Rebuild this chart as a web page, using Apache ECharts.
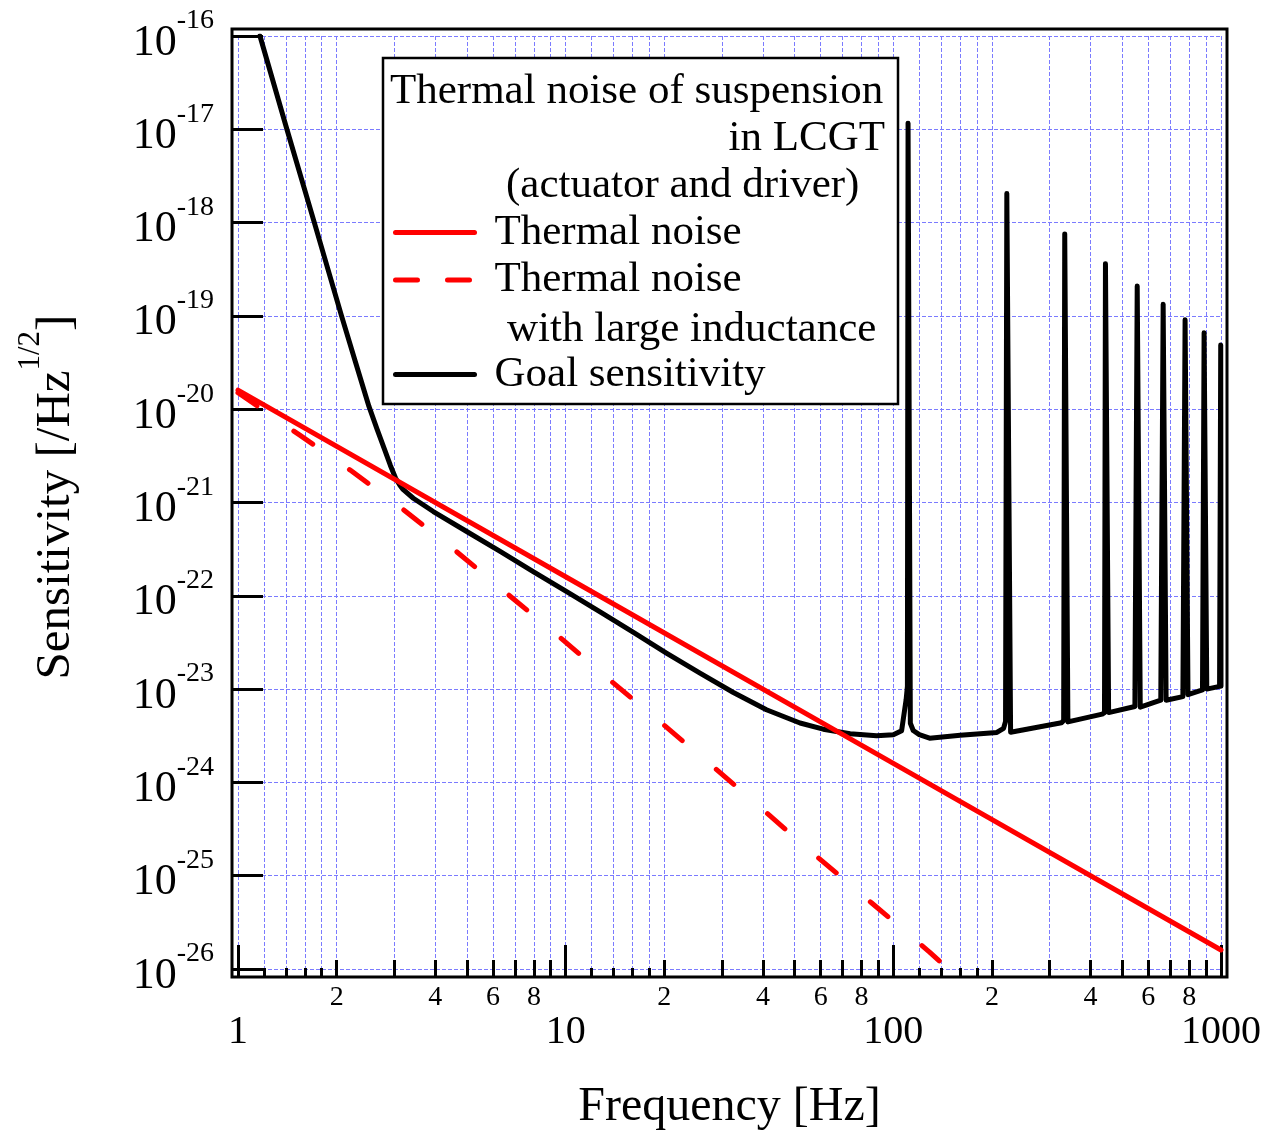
<!DOCTYPE html>
<html>
<head>
<meta charset="utf-8">
<title>Thermal noise of suspension in LCGT</title>
<script src="https://cdn.jsdelivr.net/npm/echarts@6/dist/echarts.min.js"></script>
<style>
  html, body { margin: 0; padding: 0; background: #fff; }
  #chart { width: 1270px; height: 1131px; }
</style>
</head>
<body>
<div id="chart"></div>
<script>
// values (log-log), f in Hz, sensitivity in /Hz^(1/2)
const thermalFreq = [1, 10, 100, 1000];
const thermalVal = [1.6e-20, 1.6e-22, 1.6e-24, 1.6e-26];

const inductFreq = [1, 1.54, 2.21, 3.18, 4.58, 6.55, 9.42, 13.5, 19.5, 27.9, 40.0, 57.1, 85.9, 129, 139];
const inductVal = [1.5e-20, 5.3e-21, 2.2e-21, 8.5e-22, 3.1e-22, 1.09e-22, 3.8e-23, 1.29e-23, 4.4e-24,
  1.52e-24, 5.1e-25, 1.72e-25, 5.1e-26, 1.52e-26, 1.2e-26];

const goalFreq = [1.167, 1.41, 1.71, 2.07, 2.29, 2.51, 2.66, 2.80, 2.916, 3.027, 3.119, 3.189, 3.428, 3.945,
  4.989, 6.31, 7.96, 10.1, 12.7, 16.1, 20.3, 25.7, 32.5, 41.0, 51.9, 61.1, 73.8, 88.9, 100, 106, 109.4, 110.4,
  110.9, 112.7, 115, 120, 129, 160, 207, 217, 220, 222, 228, 326, 331, 333.5, 341, 434, 441, 444, 454, 546,
  552, 555, 567, 655, 663, 666, 680, 765, 774, 777, 793, 878, 885, 888, 905, 990, 996, 998, 1000];
const goalVal = [1e-16, 1e-17, 1e-18, 1e-19, 3.09e-20, 1.07e-20, 6.03e-21, 3.72e-21, 2.51e-21, 1.82e-21,
  1.53e-21, 1.38e-21, 1.11e-21, 8.0e-22, 4.89e-22, 3.0e-22, 1.82e-22, 1.10e-22, 6.75e-23, 4.05e-23, 2.43e-23,
  1.48e-23, 9.2e-24, 6.0e-24, 4.33e-24, 3.72e-24, 3.32e-24, 3.16e-24, 3.24e-24, 3.58e-24, 7.7e-24, 1.07e-23,
  1.16e-17, 4.3e-24, 3.6e-24, 3.25e-24, 2.98e-24, 3.2e-24, 3.43e-24, 3.8e-24, 4.5e-24, 2.05e-18, 3.45e-24,
  4.35e-24, 4.6e-24, 7.57e-19, 4.45e-24, 5.4e-24, 5.6e-24, 3.63e-19, 5.6e-24, 6.5e-24, 6.7e-24, 2.09e-19,
  6.4e-24, 7.6e-24, 7.8e-24, 1.33e-19, 7.6e-24, 8.3e-24, 8.5e-24, 9.08e-20, 8.7e-24, 9.8e-24, 1.0e-23,
  6.6e-20, 1.0e-23, 1.07e-23, 1.1e-23, 4.88e-20, 1.07e-23];

// tick positions
const xMidTicks = [2, 3, 4, 5, 6, 7, 8, 9, 20, 30, 40, 50, 60, 70, 80, 90, 200, 300, 400, 500, 600, 700, 800, 900];
const xMidLabels = [2, 4, 6, 8, 20, 40, 60, 80, 200, 400, 600, 800];
const xMinorTicks = [1.2, 1.4, 1.6, 1.8, 12, 14, 16, 18, 120, 140, 160, 180];
const yDecades = [1e-26, 1e-25, 1e-24, 1e-23, 1e-22, 1e-21, 1e-20, 1e-19, 1e-18, 1e-17, 1e-16];

const zip = (xs, ys) => xs.map((x, i) => [x, ys[i]]);

const serif = "'Liberation Serif', 'Times New Roman', serif";
const gridLine = { color: '#7b7bff', width: 1, type: [4, 2] };
const tickLine = { color: '#000', width: 3 };
const legendText = { fontFamily: serif, fontSize: 43, color: '#000', lineHeight: 47.5, padding: [0, 0, 0, 15] };
const boxFont = "43px 'Liberation Serif'";

const chart = echarts.init(document.getElementById('chart'));

const lowAxis = (extra) => Object.assign({
  type: 'log',
  logBase: 10,
  min: 1,
  max: 1000,
  gridIndex: 0,
  position: 'bottom',
  offset: 8,
  axisLine: { show: false },
  splitLine: { show: true, lineStyle: gridLine }
}, extra);

chart.setOption({
  animation: false,
  backgroundColor: '#fff',
  grid: [
    { left: 238, top: 36, width: 983, height: 933, outerBoundsMode: 'none' },
    // outer frame
    { left: 232, top: 29, width: 995, height: 948, show: true, borderColor: '#000', borderWidth: 3,
      backgroundColor: 'transparent', outerBoundsMode: 'none' }
  ],
  xAxis: [
    lowAxis({
      axisTick: { show: true, inside: true, length: 32, lineStyle: tickLine },
      axisLabel: { color: '#000', fontFamily: serif, fontSize: 40, margin: 35, formatter: v => String(v) },
      name: 'Frequency [Hz]',
      nameLocation: 'middle',
      nameGap: 106,
      nameTextStyle: { color: '#000', fontFamily: serif, fontSize: 48 }
    }),
    lowAxis({
      axisTick: { show: true, inside: true, length: 17, customValues: xMidTicks, lineStyle: tickLine },
      axisLabel: {
        color: '#000', fontFamily: serif, fontSize: 28, margin: 7, customValues: xMidLabels,
        formatter: v => String(Math.round(v / Math.pow(10, Math.floor(Math.log10(v) + 1e-9))))
      }
    }),
    lowAxis({
      axisTick: { show: true, inside: true, length: 9, customValues: xMinorTicks, lineStyle: tickLine },
      axisLabel: { show: false }
    }),
    { type: 'value', gridIndex: 1, show: false, min: 0, max: 1 }
  ],
  yAxis: [
    {
      type: 'log',
      logBase: 10,
      min: 1e-26,
      max: 1e-16,
      gridIndex: 0,
      position: 'left',
      offset: 6,
      axisLine: { show: false },
      axisTick: { show: true, inside: true, length: 31, customValues: yDecades, lineStyle: tickLine },
      splitLine: { show: true, lineStyle: gridLine },
      axisLabel: {
        margin: 18,
        customValues: yDecades,
        hideOverlap: false,
        formatter: v => '{b|10}{s|' + Math.round(Math.log10(v)) + '}',
        rich: {
          b: { fontFamily: serif, fontSize: 44, color: '#000', padding: [14, 0, 0, 0], verticalAlign: 'bottom' },
          s: { fontFamily: serif, fontSize: 28, color: '#000', lineHeight: 28, verticalAlign: 'top' }
        }
      }
    },
    { type: 'value', gridIndex: 1, show: false, min: 0, max: 1 }
  ],
  legend: [
    {
      data: [
        'Thermal noise',
        { name: 'Thermal noise with large inductance', lineStyle: { type: [22, 30] } }
      ],
      orient: 'vertical',
      left: 393,
      top: 208.75,
      padding: 0,
      itemGap: 0,
      itemWidth: 79,
      itemHeight: 14,
      selectedMode: false,
      itemStyle: { opacity: 0 },
      lineStyle: { width: 5 },
      formatter: n => (n.indexOf('inductance') >= 0 ? 'Thermal noise' : n),
      textStyle: legendText
    },
    {
      data: ['Goal sensitivity'],
      orient: 'vertical',
      left: 393,
      top: 350.75,
      padding: 0,
      itemGap: 0,
      itemWidth: 79,
      itemHeight: 14,
      selectedMode: false,
      itemStyle: { opacity: 0 },
      lineStyle: { width: 5 },
      textStyle: legendText
    }
  ],
  graphic: {
    elements: [
      { type: 'rect', z: 3, shape: { x: 383, y: 58, width: 515, height: 346 },
        style: { fill: '#fff', stroke: '#000', lineWidth: 2.5 } },
      { type: 'text', z: 5, x: 390, y: 91.3,
        style: { text: 'Thermal noise of suspension', font: boxFont, fill: '#000', align: 'left', verticalAlign: 'middle' } },
      { type: 'text', z: 5, x: 885, y: 138.4,
        style: { text: 'in LCGT', font: boxFont, fill: '#000', align: 'right', verticalAlign: 'middle' } },
      { type: 'text', z: 5, x: 506, y: 185.6,
        style: { text: '(actuator and driver)', font: boxFont, fill: '#000', align: 'left', verticalAlign: 'middle' } },
      { type: 'text', z: 5, x: 507, y: 329.8,
        style: { text: 'with large inductance', font: boxFont, fill: '#000', align: 'left', verticalAlign: 'middle' } },
      // y axis title
      { type: 'text', z: 5, x: 48, y: 497, rotation: Math.PI / 2,
        style: {
          text: '{a|Sensitivity [/Hz}{s|1/2}{a|]}',
          align: 'center',
          verticalAlign: 'middle',
          rich: {
            a: { fontFamily: serif, fontSize: 49, fill: '#000', padding: [16, 0, 0, 0], verticalAlign: 'bottom' },
            s: { fontFamily: serif, fontSize: 31, fill: '#000', lineHeight: 31, verticalAlign: 'top' }
          }
        } }
    ]
  },
  series: [
    {
      name: 'Goal sensitivity',
      type: 'line',
      data: zip(goalFreq, goalVal),
      symbol: 'none',
      itemStyle: { color: '#000' },
      lineStyle: { color: '#000', width: 5, join: 'round', cap: 'round' }
    },
    {
      name: 'Thermal noise with large inductance',
      type: 'line',
      data: zip(inductFreq, inductVal),
      symbol: 'none',
      itemStyle: { color: '#ff0000' },
      lineStyle: { color: '#ff0000', width: 5, type: [23, 44.7], cap: 'round' }
    },
    {
      name: 'Thermal noise',
      type: 'line',
      data: zip(thermalFreq, thermalVal),
      symbol: 'none',
      itemStyle: { color: '#ff0000' },
      lineStyle: { color: '#ff0000', width: 5, cap: 'round' }
    }
  ]
});
</script>
</body>
</html>
